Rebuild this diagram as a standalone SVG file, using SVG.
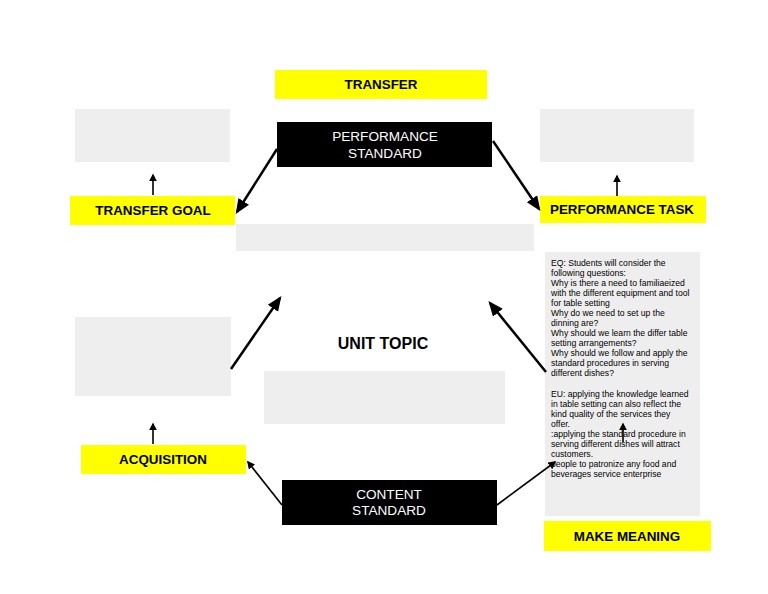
<svg xmlns="http://www.w3.org/2000/svg" width="768" height="594" viewBox="0 0 768 594">
<defs>
<style>
.y{fill:#ffff00}
.g{fill:#eeeeee}
.b{fill:#000000}
.yt{font-family:"Liberation Sans",Arial,sans-serif;font-weight:bold;font-size:13.4px;fill:#000;text-anchor:middle}
.bt{font-family:"Liberation Sans",Arial,sans-serif;font-size:13.6px;fill:#fff;text-anchor:middle}
.tt{font-family:"Liberation Sans",Arial,sans-serif;font-size:8.6px;fill:#000}
.c{stroke:#000;stroke-width:2.5;fill:none;marker-end:url(#ah)}
.cs{stroke:#000;stroke-width:1.6;fill:none;marker-end:url(#ahs)}
</style>
<marker id="ah" markerWidth="6" markerHeight="6" refX="5" refY="3" orient="auto" markerUnits="strokeWidth">
<path d="M0,0.5 L6,3 L0,5.5 Z" fill="#000"/>
</marker>
<marker id="ahs" markerWidth="5" markerHeight="5" refX="4" refY="2.5" orient="auto" markerUnits="strokeWidth">
<path d="M0,0 L5,2.5 L0,5 Z" fill="#000"/>
</marker>
</defs>
<rect width="768" height="594" fill="#fff"/>

<g id="transfer"><rect class="y" x="275" y="70" width="212" height="29"/><text class="yt" x="381" y="89">TRANSFER</text></g>
<g id="grey-top-left"><rect class="g" x="75" y="109" width="155" height="53"/></g>
<g id="grey-top-right"><rect class="g" x="540" y="109" width="154" height="53"/></g>
<g id="performance-standard"><rect class="b" x="277" y="122" width="215" height="45"/><text class="bt" x="385" y="141">PERFORMANCE</text><text class="bt" x="385" y="158">STANDARD</text></g>
<g id="transfer-goal"><rect class="y" x="70" y="196" width="165" height="29"/><text class="yt" x="153" y="215">TRANSFER GOAL</text></g>
<g id="performance-task"><rect class="y" x="540" y="196" width="166" height="27"/><text class="yt" x="622" y="214">PERFORMANCE TASK</text></g>
<g id="grey-wide"><rect class="g" x="236" y="224" width="298" height="27"/></g>
<g id="eq-eu-box"><rect class="g" x="545" y="252" width="155" height="264"/>
<text class="tt" x="551" y="266">EQ: Students will consider the</text>
<text class="tt" x="551" y="276">following questions:</text>
<text class="tt" x="551" y="286">Why is there a need to familiaeized</text>
<text class="tt" x="551" y="296">with the different equipment and tool</text>
<text class="tt" x="551" y="306">for table setting</text>
<text class="tt" x="551" y="316">Why do we need to set up the</text>
<text class="tt" x="551" y="326">dinning are?</text>
<text class="tt" x="551" y="336">Why should we learn the differ table</text>
<text class="tt" x="551" y="346">setting arrangements?</text>
<text class="tt" x="551" y="356">Why should we follow and apply the</text>
<text class="tt" x="551" y="366">standard procedures in serving</text>
<text class="tt" x="551" y="376">different dishes?</text>
<text class="tt" x="551" y="397">EU: applying the knowledge learned</text>
<text class="tt" x="551" y="407">in table setting can also reflect the</text>
<text class="tt" x="551" y="417">kind quality of the services they</text>
<text class="tt" x="551" y="427">offer.</text>
<text class="tt" x="551" y="437">:applying the standard procedure in</text>
<text class="tt" x="551" y="447">serving different dishes will attract</text>
<text class="tt" x="551" y="457">customers.</text>
<text class="tt" x="551" y="467">people to patronize any food and</text>
<text class="tt" x="551" y="477">beverages service enterprise</text>
</g>
<g id="grey-mid-left"><rect class="g" x="75" y="317" width="156" height="79"/></g>
<g id="unit-topic"><text x="383" y="349" style="font-family:'Liberation Sans',Arial,sans-serif;font-weight:bold;font-size:16px;fill:#000;text-anchor:middle">UNIT TOPIC</text></g>
<g id="grey-center"><rect class="g" x="264" y="371" width="241" height="53"/></g>
<g id="acquisition"><rect class="y" x="81" y="445" width="165" height="29"/><text class="yt" x="163" y="464">ACQUISITION</text></g>
<g id="content-standard"><rect class="b" x="282" y="480" width="215" height="45"/><text class="bt" x="389" y="499">CONTENT</text><text class="bt" x="389" y="515">STANDARD</text></g>
<g id="make-meaning"><rect class="y" x="544" y="521" width="167" height="30"/><text class="yt" x="627" y="541">MAKE MEANING</text></g>

<g id="connectors">
<line class="c" x1="277" y1="149" x2="237" y2="212"/>
<line class="c" x1="493" y1="141" x2="539" y2="209"/>
<line class="cs" x1="153" y1="195" x2="153" y2="175"/>
<line class="cs" x1="617" y1="196" x2="617" y2="176"/>
<line class="c" x1="231" y1="369" x2="280" y2="298"/>
<line class="c" x1="546" y1="372" x2="490" y2="303"/>
<line class="cs" x1="153" y1="444" x2="153" y2="424"/>
<line class="cs" x1="282" y1="505" x2="248" y2="462"/>
<line class="cs" x1="497" y1="505" x2="555" y2="462"/>
<line class="cs" x1="623" y1="442" x2="623" y2="424"/>
</g>
</svg>
